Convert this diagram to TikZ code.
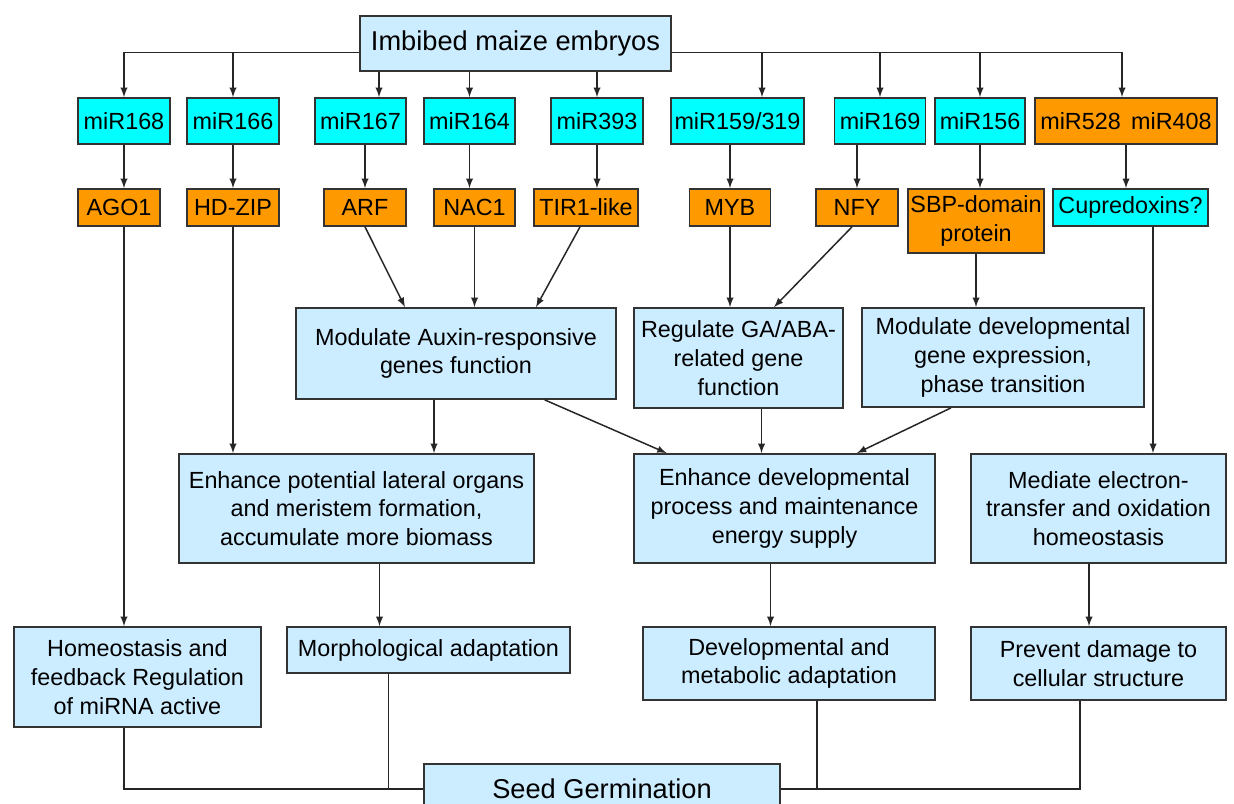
\documentclass[tikz,border=0pt]{standalone}
\usepackage{fontspec}
\setmainfont{Liberation Sans}
\usetikzlibrary{arrows,positioning}
\definecolor{boxblue}{RGB}{204,236,255}
\definecolor{mircyan}{RGB}{0,255,255}
\definecolor{targetorange}{RGB}{255,153,0}
\newcommand{\upx}{0.02cm}
\tikzset{every picture/.style={/utils/exec={\fontsize{13.3}{16.4}\selectfont}}}
\tikzset{wh/.style 2 args={minimum width=#1*\upx, minimum height=#2*\upx}}

\begin{document}
\begin{tikzpicture}[x=\upx, y=-\upx]
  \tikzstyle{box} = [rectangle, draw=black!80, line width=1pt, inner sep=0pt, text centered, align=center]
  \tikzstyle{func} = [box, fill=boxblue]
  \tikzstyle{mir} = [box, fill=mircyan, wh={91}{46}]
  \tikzstyle{target} = [box, fill=targetorange, wh={82}{37}]
  \tikzstyle{big} = [font=\fontsize{15.5}{18}\selectfont]

  \tikzstyle{arrow} = [-latex, line width=0.85pt, draw=black!85]
  \tikzstyle{line} = [line width=0.85pt, draw=black!85]

  \useasboundingbox (0,0) rectangle (1234,804);
  \clip (0,0) rectangle (1234,804);

  \node (top) [func, big, wh={311}{55}] at (515.5,43.5) {Imbibed maize embryos};

  % miRNA row
  \node (mir168) [mir, wh={92}{46}] at (124,121) {miR168};
  \node (mir166) [mir, wh={92}{46}] at (233,121) {miR166};
  \node (mir167) [mir] at (360.5,121) {miR167};
  \node (mir164) [mir] at (469.5,121) {miR164};
  \node (mir393) [mir, wh={92}{46}] at (597,121) {miR393};
  \node (mir159) [mir, wh={133}{46}] at (737.5,121) {miR159/319};
  \node (mir169) [mir] at (880,121) {miR169};
  \node (mir156) [mir, wh={90}{46}] at (980,121) {miR156};
  \node (mir528) [box, fill=targetorange, wh={182}{46}] at (1126,121) {miR528 \,miR408};

  % targets
  \node (ago1) [target] at (119,207.5) {AGO1};
  \node (hdzip) [target, wh={92}{37}] at (233,207.5) {HD-ZIP};
  \node (arf) [target] at (365,207.5) {ARF};
  \node (nac1) [target, wh={81}{37}] at (474.5,207.5) {NAC1};
  \node (tir1) [target, wh={104}{37}] at (586,207.5) {TIR1-like};
  \node (myb) [target, wh={81}{37}] at (730,207.5) {MYB};
  \node (nfy) [target] at (857,207.5) {NFY};
  \node (sbp) [target, wh={136}{64}] at (976,221) {SBP-domain\\protein};
  \node (cupre) [box, fill=mircyan, wh={155}{37}] at (1130.5,207.5) {Cupredoxins?};

  % functions
  \node (auxin) [func, wh={320}{91}] at (456,353.5) {Modulate Auxin-responsive\\genes function};
  \node (gaaba) [func, wh={209}{100}] at (738.5,358) {Regulate GA/ABA-\\related gene\\function};
  \node (devgene) [func, wh={282}{99}] at (1003,357.5) {Modulate developmental\\gene expression,\\phase transition};

  \node (lateral) [func, wh={355}{109}] at (356.5,508.5) {Enhance potential lateral organs\\and meristem formation,\\accumulate more biomass};
  \node (energy) [func, wh={301}{109}] at (784.5,508.5) {Enhance developmental\\process and maintenance\\energy supply};
  \node (electron) [func, wh={255}{109}] at (1098.5,508.5) {Mediate electron-\\transfer and oxidation\\homeostasis};

  \node (homeo) [func, wh={247}{100}] at (137.5,677) {Homeostasis and\\feedback Regulation\\of miRNA active};
  \node (morph) [func, wh={283}{46}] at (428.5,650) {Morphological adaptation};
  \node (metab) [func, wh={292}{73}] at (789,663.5) {Developmental and\\metabolic adaptation};
  \node (damage) [func, wh={255}{73}] at (1098.5,663.5) {Prevent damage to\\cellular structure};

  \node (seed) [func, big, wh={356}{50}] at (602,789) {Seed Germination};

  % from the embryos to the miRNAs
  \draw [arrow] ([yshift=-8.8*\upx]top.west) -| (mir168);
  \draw [arrow] ([yshift=-8.8*\upx]top.west) -| (mir166);
  \draw [arrow] ([xshift=18.5*\upx]mir167.north |- top.south) -- ([xshift=18.5*\upx]mir167.north);
  \draw [arrow] (mir164 |- top.south) -- (mir164);
  \draw [arrow] (mir393 |- top.south) -- (mir393);
  \draw [arrow] ([yshift=-8.8*\upx]top.east) -| ([xshift=24.5*\upx]mir159.north);
  \draw [arrow] ([yshift=-8.8*\upx]top.east) -| (mir169);
  \draw [arrow] ([yshift=-8.8*\upx]top.east) -| (mir156);
  \draw [arrow] ([yshift=-8.8*\upx]top.east) -| ([xshift=-4*\upx]mir528.north);

  \draw [arrow] (mir168) -- (mir168 |- ago1.north);
  \draw [arrow] (mir166) -- (hdzip);
  \draw [arrow] (arf |- mir167.south) -- (arf);
  \draw [arrow] (mir164) -- (mir164 |- nac1.north);
  \draw [arrow] (mir393) -- (mir393 |- tir1.north);
  \draw [arrow] (myb |- mir159.south) -- (myb);
  \draw [arrow] (nfy |- mir169.south) -- (nfy);
  \draw [arrow] (mir156) -- (mir156 |- sbp.north);
  \draw [arrow] (mir528) -- (mir528 |- cupre.north);

  \draw [arrow] (arf.south) -- ([xshift=-51*\upx]auxin.north);
  \draw [arrow] (nac1) -- (nac1 |- auxin.north);
  \draw [arrow] ([xshift=-6*\upx]tir1.south) -- ([xshift=80*\upx]auxin.north);
  \draw [arrow] (myb) -- (myb |- gaaba.north);
  \draw [arrow] ([xshift=-5*\upx]nfy.south) -- ([xshift=35.5*\upx]gaaba.north);
  \draw [arrow] (sbp) -- (sbp |- devgene.north);
  \draw [arrow] ([xshift=22.5*\upx]cupre.south) -- ([xshift=22.5*\upx]cupre.south |- electron.north);
  \draw [arrow] (hdzip) -- (hdzip |- lateral.north);
  \draw [arrow] (ago1.south -| mir168) -- (mir168 |- homeo.north);

  \draw [arrow] ([xshift=-22*\upx]auxin.south) -- ([xshift=-22*\upx]auxin.south |- lateral.north);
  \draw [arrow] ([xshift=88.7*\upx]auxin.south) -- ([xshift=-117.8*\upx]energy.north);
  \draw [arrow] ([xshift=23*\upx]gaaba.south) -- ([xshift=23*\upx]gaaba.south |- energy.north);
  \draw [arrow] ([xshift=-52*\upx]devgene.south) -- ([xshift=72.3*\upx]energy.north);

  \draw [arrow] ([xshift=23*\upx]lateral.south) -- ([xshift=23*\upx]lateral.south |- morph.north);
  \draw [arrow] ([xshift=-14*\upx]energy.south) -- ([xshift=-14*\upx]energy.south |- metab.north);
  \draw [arrow] ([xshift=-9.5*\upx]electron.south) -- ([xshift=-9.5*\upx]electron.south |- damage.north);

  % everything joins at germination
  \draw [line] (homeo.south -| mir168) |- (seed.west);
  \draw [line] ([xshift=-40*\upx]morph.south) -- ([xshift=-40*\upx]morph.south |- seed.west);
  \draw [line] ([xshift=28*\upx]metab.south) |- (seed.east);
  \draw [line] ([xshift=-18.5*\upx]damage.south) |- (seed.east);
\end{tikzpicture}
\end{document}
